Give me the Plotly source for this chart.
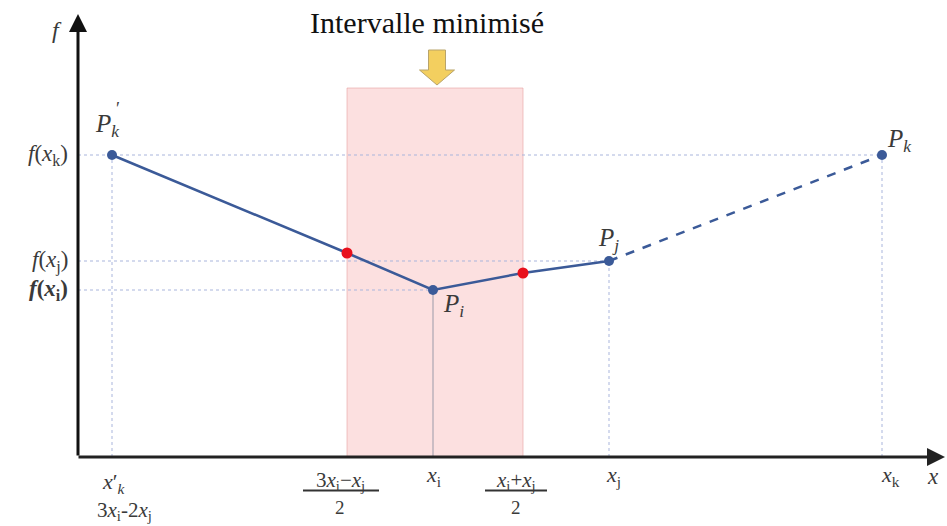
import plotly.graph_objects as go

# ---- data (abstract units) ----
pt_names = ["P'k", "Pi", "Pj", "Pk"]
pt_x = [0.34, 3.55, 5.31, 8.04]
pt_y = [3.02, 1.67, 1.96, 3.02]
red_x = [2.69, 4.45]
red_y = [2.04, 1.84]
tick_vals = [0.34, 2.69, 3.55, 4.45, 5.31, 8.04]
f_labels = ["f(x_k)", "f(x_j)", "f(x_i)"]
f_vals = [3.02, 1.96, 1.67]

XMIN, XMAX = -0.78, 8.69
YMIN, YMAX = -0.69, 4.57

BLUE = "#3b5a98"
GUIDE = "#a9b5dc"
SERIF = "Times New Roman"
TXT = "#3a3a3a"

fig = go.Figure()

# pink minimised interval
fig.add_shape(type="rect", x0=red_x[0], x1=red_x[1], y0=0, y1=3.69,
              fillcolor="rgba(252,218,218,0.85)", line=dict(color="rgba(230,160,160,0.6)", width=1),
              layer="below")

# guide lines (dotted)
xk_, xi_, xj_, xK_ = pt_x
yk_, yi_, yj_, yK_ = pt_y
guides = [
    ([0, xK_], [yK_, yK_]),
    ([0, xj_], [yj_, yj_]),
    ([0, xi_], [yi_, yi_]),
    ([xk_, xk_], [0, yk_]),
    ([xj_, xj_], [0, yj_]),
    ([xK_, xK_], [0, yK_]),
]
for gx, gy in guides:
    fig.add_trace(go.Scatter(x=gx, y=gy, mode="lines", hoverinfo="skip", showlegend=False,
                             line=dict(color=GUIDE, width=1, dash="dot")))
fig.add_trace(go.Scatter(x=[xi_, xi_], y=[0, yi_], mode="lines", hoverinfo="skip", showlegend=False,
                         line=dict(color="#9a9aa8", width=1)))

# solid polyline P'k - red - Pi - red - Pj
fig.add_trace(go.Scatter(x=[pt_x[0], red_x[0], pt_x[1], red_x[1], pt_x[2]],
                         y=[pt_y[0], red_y[0], pt_y[1], red_y[1], pt_y[2]],
                         mode="lines", line=dict(color=BLUE, width=2.5), showlegend=False))
# dashed Pj - Pk
fig.add_trace(go.Scatter(x=[pt_x[2], pt_x[3]], y=[pt_y[2], pt_y[3]], mode="lines",
                         line=dict(color=BLUE, width=2.5, dash="dash"), showlegend=False))
# points
fig.add_trace(go.Scatter(x=pt_x, y=pt_y, mode="markers", text=pt_names,
                         marker=dict(color=BLUE, size=10), showlegend=False))
fig.add_trace(go.Scatter(x=red_x, y=red_y, mode="markers",
                         marker=dict(color="#e8101c", size=11), showlegend=False))

ann = []
# axes with arrows
ann.append(dict(x=0, y=4.43, ax=0, ay=0, xref="x", yref="y", axref="x", ayref="y", text="",
                showarrow=True, arrowhead=2, arrowsize=1.2, arrowwidth=3, arrowcolor="#111", standoff=0))
ann.append(dict(x=8.67, y=0, ax=-0.01, ay=0, xref="x", yref="y", axref="x", ayref="y", text="",
                showarrow=True, arrowhead=2, arrowsize=1.2, arrowwidth=3, arrowcolor="#222", standoff=0))

def t(x, y, s, size=17, xa="center", color=TXT, xshift=0, yshift=0):
    ann.append(dict(x=x, y=y, xref="x", yref="y", text=s, showarrow=False, xanchor=xa, yanchor="middle",
                    xshift=xshift, yshift=yshift, font=dict(family=SERIF, size=size, color=color)))

# title
t(3.49, 4.35, "Intervalle minimisé", size=30, color="#111")
# axis names
t(-0.21, 4.27, "<i>f</i>", size=24)
t(8.55, -0.19, "<i>x</i>", size=23)

# left f labels
flab_html = ["<i>f</i>(<i>x</i><sub>k</sub>)", "<i>f</i>(<i>x</i><sub>j</sub>)", "<b><i>f</i>(<i>x</i><sub>i</sub>)</b>"]
for v, s in zip(f_vals, flab_html):
    t(-0.08, v, s, size=23, xa="right")

# tick labels
t(tick_vals[0], -0.26, "<i>x</i>′<sub><i>k</i></sub>", size=22, xshift=2)
t(tick_vals[0], -0.54, "3<i>x</i><sub>i</sub>-2<i>x</i><sub>j</sub>", size=21, xshift=12)
t(tick_vals[1], -0.24, "3<i>x</i><sub>i</sub>−<i>x</i><sub>j</sub>", size=21, xshift=-7)
t(tick_vals[1], -0.50, "2", size=19, xshift=-7)
t(tick_vals[2], -0.19, "<i>x</i><sub>i</sub>", size=22)
t(tick_vals[3], -0.24, "<i>x</i><sub>i</sub>+<i>x</i><sub>j</sub>", size=21, xshift=-7)
t(tick_vals[3], -0.50, "2", size=19, xshift=-7)
t(tick_vals[4], -0.19, "<i>x</i><sub>j</sub>", size=22, xshift=4)
t(tick_vals[5], -0.19, "<i>x</i><sub>k</sub>", size=22, xshift=8)

# fraction bars
fig.add_shape(type="line", x0=tick_vals[1] - 0.44, x1=tick_vals[1] + 0.32, y0=-0.335, y1=-0.335,
              line=dict(color="#333", width=2))
fig.add_shape(type="line", x0=tick_vals[3] - 0.38, x1=tick_vals[3] + 0.24, y0=-0.335, y1=-0.335,
              line=dict(color="#333", width=2))

# point labels
t(pt_x[0], 3.32, "<i>P</i><sub><i>k</i></sub>", size=25, xshift=-5)
t(pt_x[0], 3.48, "′", size=18, xshift=6)
t(pt_x[1], 1.52, "<i>P</i><sub><i>i</i></sub>", size=25, xshift=20)
t(pt_x[2], 2.18, "<i>P</i><sub><i>j</i></sub>", size=25, xshift=-1)
t(pt_x[3], 3.17, "<i>P</i><sub><i>k</i></sub>", size=25, xshift=17)

# yellow arrow pointing to interval
cx = 3.59
path = (f"M {cx-0.085},4.07 L {cx+0.085},4.07 L {cx+0.085},3.87 L {cx+0.175},3.87 "
        f"L {cx},3.72 L {cx-0.175},3.87 L {cx-0.085},3.87 Z")
fig.add_shape(type="path", path=path, fillcolor="#f3cf5f", line=dict(color="#b9a46a", width=1))

fig.update_layout(
    width=947, height=526, margin=dict(l=0, r=0, t=0, b=0),
    paper_bgcolor="white", plot_bgcolor="white", annotations=ann,
    font=dict(family=SERIF),
    xaxis=dict(range=[XMIN, XMAX], visible=False, fixedrange=True),
    yaxis=dict(range=[YMIN, YMAX], visible=False, fixedrange=True),
    showlegend=False,
)
fig.write_html("out.html")
